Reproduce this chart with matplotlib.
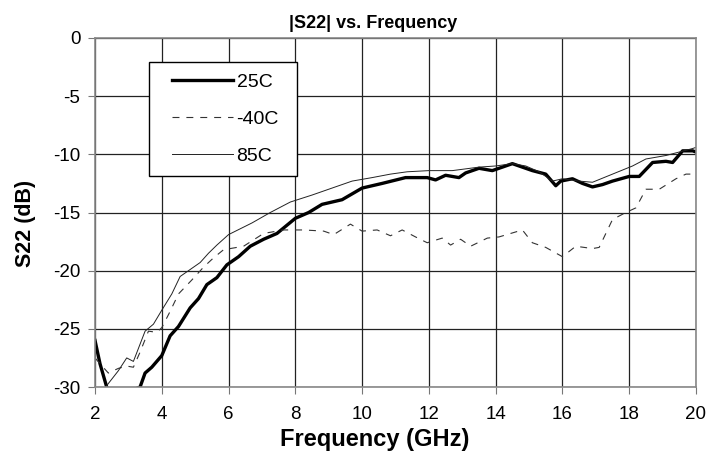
import matplotlib.pyplot as plt
from matplotlib.legend_handler import HandlerLine2D

plt.rcParams['font.family'] = ['Liberation Sans', 'DejaVu Sans']
plt.rcParams['axes.unicode_minus'] = False
plt.rcParams['lines.scale_dashes'] = False

# 25C trace (thick)
f_25 = [2.0, 2.15, 2.35, 2.5, 3.35, 3.5, 3.7, 4.0, 4.25, 4.5, 4.85, 5.1, 5.35, 5.65, 5.95,
        6.3, 6.65, 7.05, 7.45, 8.0, 8.4, 8.8, 9.4, 10.0, 10.6, 11.3, 11.95, 12.2, 12.5,
        12.9, 13.1, 13.5, 13.9, 14.2, 14.5, 14.8, 15.1, 15.5, 15.8, 15.95, 16.3, 16.6,
        16.9, 17.2, 17.5, 18.0, 18.3, 18.7, 19.1, 19.3, 19.6, 19.9, 20.0]
s_25 = [-26.0, -28.0, -30.0, -31.0, -30.0, -28.8, -28.3, -27.3, -25.6, -24.8, -23.2, -22.4,
        -21.2, -20.6, -19.5, -18.8, -17.9, -17.3, -16.8, -15.5, -15.0, -14.3, -13.9,
        -12.9, -12.5, -12.0, -12.0, -12.2, -11.8, -12.0, -11.6, -11.2, -11.4, -11.1,
        -10.8, -11.1, -11.4, -11.7, -12.7, -12.3, -12.1, -12.5, -12.8, -12.6, -12.3,
        -11.9, -11.9, -10.7, -10.6, -10.7, -9.7, -9.7, -9.8]

# -40C trace (dashed)
f_m40 = [2.0, 2.15, 2.4, 2.7, 2.95, 3.15, 3.35, 3.6, 3.85, 4.0, 4.25, 4.5, 4.9, 5.25, 5.55,
         5.85, 6.45, 7.05, 7.65, 8.25, 8.85, 9.15, 9.65, 10.0, 10.45, 10.85, 11.2, 11.6,
         11.95, 12.4, 12.65, 12.95, 13.25, 13.75, 14.1, 14.8, 15.1, 15.5, 16.0, 16.4,
         16.9, 17.1, 17.5, 17.9, 18.2, 18.5, 18.9, 19.4, 19.7, 20.0]
s_m40 = [-27.5, -28.0, -28.8, -28.4, -28.2, -28.3, -27.0, -25.2, -25.3, -24.9, -23.5,
         -22.0, -20.8, -19.7, -18.9, -18.2, -17.9, -16.8, -16.5, -16.5, -16.6, -16.9,
         -16.0, -16.6, -16.5, -17.0, -16.5, -17.1, -17.6, -17.2, -17.8, -17.3, -17.9,
         -17.2, -17.1, -16.5, -17.6, -18.0, -18.8, -17.9, -18.1, -18.0, -15.6, -15.0,
         -14.6, -13.0, -13.0, -12.1, -11.7, -11.7]

# 85C trace (thin)
f_85 = [2.2, 2.4, 2.7, 2.95, 3.15, 3.5, 3.75, 4.0, 4.3, 4.55, 4.85, 5.15, 5.4, 5.65, 6.0,
        6.35, 6.7, 7.25, 7.85, 8.5, 9.1, 9.7, 10.3, 10.85, 11.35, 12.0, 12.7, 13.5, 14.0,
        14.5, 14.9, 15.3, 15.7, 16.0, 16.5, 16.9, 17.5, 18.1, 18.5, 19.1, 19.5, 19.9, 20.0]
s_85 = [-30.5, -29.7, -28.6, -27.5, -27.8, -25.2, -24.6, -23.4, -22.0, -20.5, -19.9,
        -19.3, -18.5, -17.8, -16.9, -16.4, -15.9, -15.0, -14.1, -13.5, -12.9, -12.3,
        -12.0, -11.7, -11.5, -11.4, -11.4, -11.1, -11.0, -10.8, -11.0, -11.5, -12.3,
        -12.1, -12.3, -12.4, -11.7, -11.0, -10.4, -10.1, -9.8, -9.5, -9.4]

x_ticks = [2, 4, 6, 8, 10, 12, 14, 16, 18, 20]
y_ticks = [0, -5, -10, -15, -20, -25, -30]

fig = plt.figure(figsize=(7.21, 4.59), dpi=100)
ax = fig.add_axes([95 / 721, 1 - 387 / 459, 601 / 721, 349 / 459])

ax.plot(f_25, s_25, color='black', lw=2.4, label='25C')
ax.plot(f_m40, s_m40, color='#333333', lw=0.8, dashes=(5, 5), label='-40C')
ax.plot(f_85, s_85, color='#222222', lw=0.7, label='85C')

ax.set_xlim(2, 20)
ax.set_ylim(-30, 0)
ax.set_xticks(x_ticks)
ax.set_yticks(y_ticks)
ax.tick_params(labelsize=13.5, length=5, width=0.8, color='#777777')
ax.tick_params(axis='x', pad=9)
ax.tick_params(axis='y', pad=5.5)
ax.grid(True, color='#222222', lw=0.9)
for sp in ax.spines.values():
    sp.set_color('#888888')
    sp.set_linewidth(1.2)

ax.set_title('|S22| vs. Frequency', fontsize=13, fontweight='bold', pad=7, x=0.463)
ax.set_xlabel('Frequency (GHz)', fontsize=17, fontweight='bold', labelpad=3, x=0.466)
ax.set_ylabel('S22 (dB)', fontsize=15.5, fontweight='bold', labelpad=12, y=0.47)

leg = ax.legend(loc='upper left', bbox_to_anchor=(54 / 601, 0, 148 / 601, 325 / 349),
                mode='expand', fontsize=14, frameon=True, fancybox=False,
                handlelength=3.7, borderpad=0.6, labelspacing=0.98,
                handletextpad=0.2, borderaxespad=0,
                handler_map={l: HandlerLine2D(xpad=0.6) for l in ax.get_lines()})
leg.get_frame().set_edgecolor('black')
leg.get_frame().set_linewidth(1.0)
leg.get_frame().set_alpha(1.0)

plt.savefig('out.png', dpi=100)
